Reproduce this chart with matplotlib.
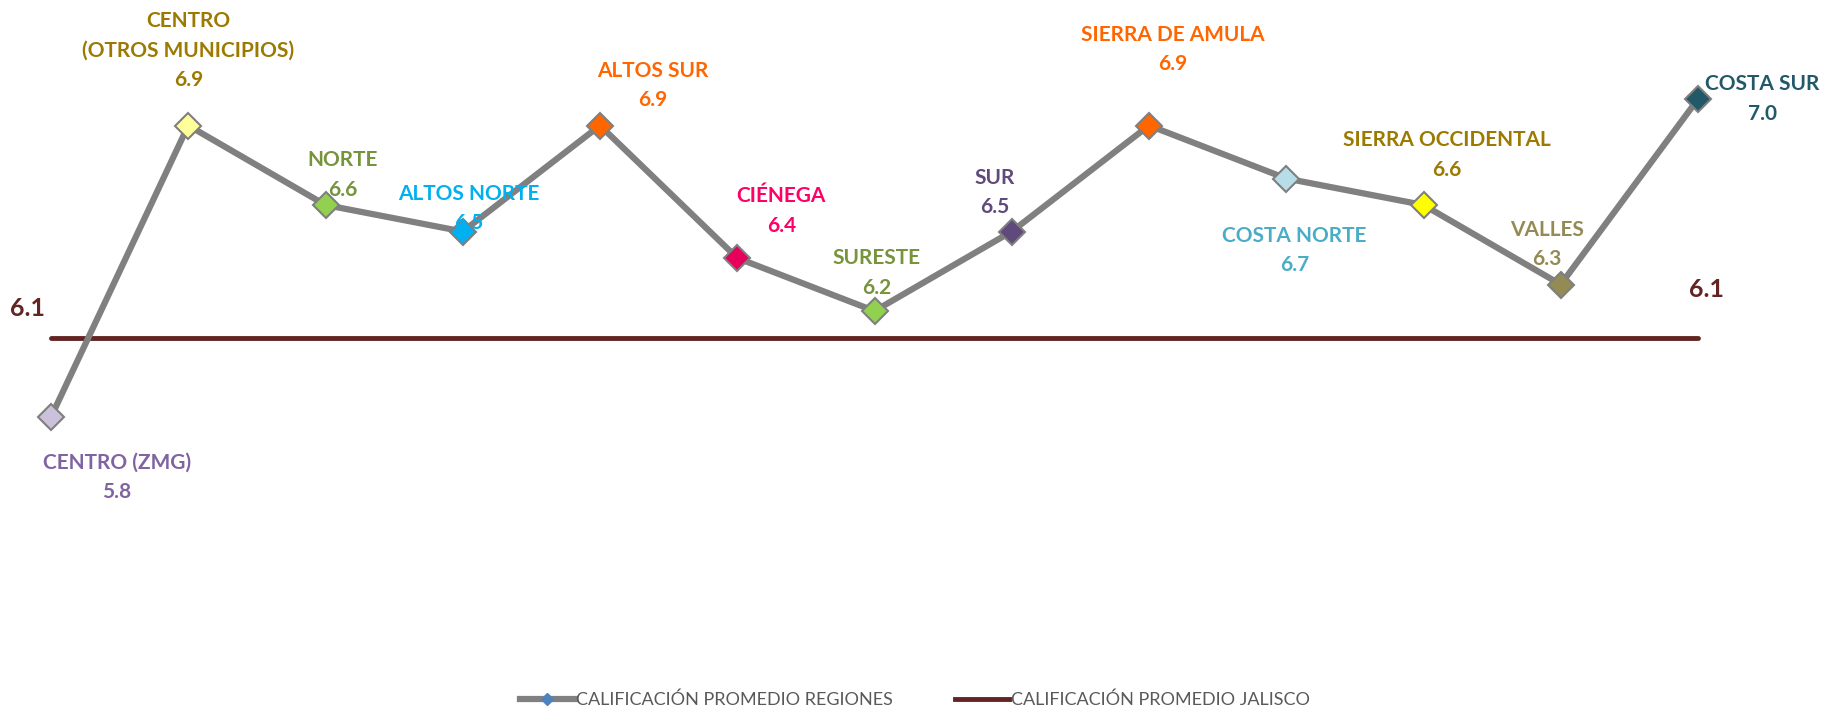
import matplotlib
matplotlib.use("Agg")
import matplotlib.pyplot as plt
from matplotlib.lines import Line2D

# data
regiones = ['CENTRO (ZMG)', 'CENTRO\n(OTROS MUNICIPIOS)', 'NORTE', 'ALTOS NORTE', 'ALTOS SUR',
            'CIÉNEGA', 'SURESTE', 'SUR', 'SIERRA DE AMULA', 'COSTA NORTE',
            'SIERRA OCCIDENTAL', 'VALLES', 'COSTA SUR']
calificacion = [5.8, 6.9, 6.6, 6.5, 6.9, 6.4, 6.2, 6.5, 6.9, 6.7, 6.6, 6.3, 7.0]
promedio_jalisco = 6.1

# styles
marker_colors = ['#CCC1DA', '#FFFF99', '#92D050', '#00B0F0', '#FF6600', '#E6005C', '#92D050',
                 '#604A7B', '#FF6600', '#B7DEE8', '#FFFF00', '#948A54', '#215968']
label_colors = ['#8064A2', '#9C7A00', '#77933C', '#00B0F0', '#FF6600', '#FF0066', '#77933C',
                '#604A7B', '#FF6600', '#4BACC6', '#9C7A00', '#948A54', '#215968']
# label offsets in pixels (dx, dy up)
label_offsets = [(66, -60), (0, 75), (17, 30), (6, 23), (53, 40), (44, 47), (2, 38),
                 (-17, 39), (24, 76), (8, -72), (23, 50), (-14, 40), (64, 0)]

plt.rcParams['font.family'] = ['Lato', 'DejaVu Sans']

fig = plt.figure(figsize=(18.3, 7.14), dpi=100)
ax = fig.add_axes([0, 0, 1, 1])
ax.axis('off')

x = list(range(len(regiones)))
ax.plot([x[0], x[-1]], [promedio_jalisco, promedio_jalisco], color='#632523', lw=3.5,
        solid_capstyle='round', zorder=1)
ax.plot(x, calificacion, color='#808080', lw=4.5, zorder=2)
for i, v in enumerate(calificacion):
    ax.plot(i, v, marker='D', ms=13, mfc=marker_colors[i], mec='#7F7F7F', mew=1.5, zorder=3)
    dx, dy = label_offsets[i]
    ax.annotate(f'{regiones[i]}\n{v:.1f}', xy=(i, v), xytext=(dx, dy), textcoords='offset pixels',
                ha='center', va='center', multialignment='center', fontsize=15, fontweight='bold',
                color=label_colors[i], linespacing=1.6, zorder=4)

ax.annotate(f'{promedio_jalisco:.1f}', xy=(x[0], promedio_jalisco), xytext=(-24, 29),
            textcoords='offset pixels', ha='center', va='center', fontsize=18,
            fontweight='bold', color='#632523')
ax.annotate(f'{promedio_jalisco:.1f}', xy=(x[-1], promedio_jalisco), xytext=(8, 48),
            textcoords='offset pixels', ha='center', va='center', fontsize=18,
            fontweight='bold', color='#632523')

ax.set_xlim(-51 / 137.25, 12 + 132 / 137.25)
ax.set_ylim(7.0 - 615 / 265, 7.0 + 99 / 265)

handles = [Line2D([], [], color='#808080', lw=4.5, marker='D', ms=6, mfc='#4F81BD', mec='#4F81BD'),
           Line2D([], [], color='#632523', lw=3.5)]
fig.legend(handles, ['CALIFICACIÓN PROMEDIO REGIONES', 'CALIFICACIÓN PROMEDIO JALISCO'],
           loc='center', bbox_to_anchor=(0.5, 14 / 714), ncol=2, frameon=False,
           fontsize=13, labelcolor='#595959', handlelength=3.0, handletextpad=0.1,
           columnspacing=3.4)

fig.savefig('out.png', dpi=100)
